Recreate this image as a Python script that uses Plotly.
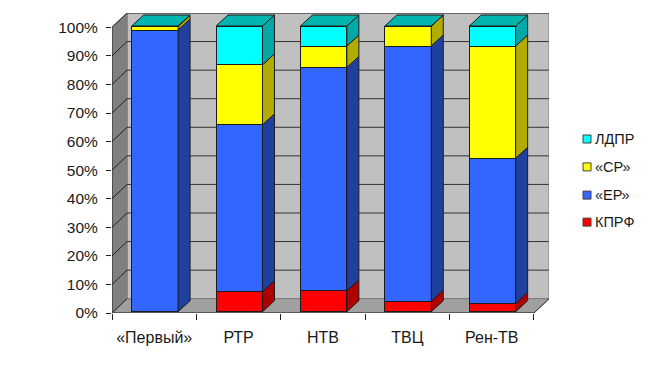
import plotly.graph_objects as go

categories = ["«Первый»", "РТР", "НТВ", "ТВЦ", "Рен-ТВ"]
kprf = [0, 7.0, 7.3, 3.7, 2.9]
er = [98.6, 58.4, 78.2, 89.3, 50.8]
sr = [1.2, 21.0, 7.5, 6.9, 39.3]
ldpr = [0.2, 13.6, 7.0, 0.1, 7.0]
series_names = ["КПРФ", "«ЕР»", "«СР»", "ЛДПР"]
series_values = [kprf, er, sr, ldpr]
front_colors = ["#ff0000", "#3366ff", "#ffff00", "#00ffff"]
side_colors = ["#b00000", "#2040a0", "#b3ac00", "#00a8a8"]
top_color = "#00b5ad"
y_ticks = list(range(0, 101, 10))
y_labels = [f"{v}%" for v in y_ticks]

BAR_W = 0.55
BAR_DX, BAR_DY = 0.142, 3.85
WALL_DX, WALL_DY = 0.178, 5.0
BAR_LIFT = 0.45   # bars float slightly above the floor edge
EDGE = "#1c1c1c"
n = len(categories)
label_x = [i + 0.5 for i in range(n)]
xs = [i + 0.508 for i in range(n)]

fig = go.Figure()

# front faces, real stacked bars
for name, vals, col in zip(series_names, series_values, front_colors):
    fig.add_trace(go.Bar(x=xs, y=vals, yaxis="y2", name=name, width=BAR_W,
                         marker=dict(color=col, line=dict(color=EDGE, width=1)), showlegend=False))

# side and top faces derived from the same values
bottoms = [0] * n
for name, vals, col in zip(series_names, series_values, side_colors):
    px, py = [], []
    for i in range(n):
        if vals[i] <= 0:
            continue
        r = xs[i] + BAR_W / 2
        b, t = bottoms[i], bottoms[i] + vals[i]
        px += [r, r + BAR_DX, r + BAR_DX, r, r, None]
        py += [b, b + BAR_DY, t + BAR_DY, t, b, None]
    fig.add_trace(go.Scatter(x=px, y=py, yaxis="y2", mode="lines", fill="toself", fillcolor=col,
                             line=dict(color=EDGE, width=1), showlegend=False, hoverinfo="skip"))
    bottoms = [a + v for a, v in zip(bottoms, vals)]
px, py = [], []
for i in range(n):
    l, r = xs[i] - BAR_W / 2, xs[i] + BAR_W / 2
    t = bottoms[i]
    px += [l, r, r + BAR_DX, l + BAR_DX, l, None]
    py += [t, t, t + BAR_DY, t + BAR_DY, t, None]
fig.add_trace(go.Scatter(x=px, y=py, yaxis="y2", mode="lines", fill="toself", fillcolor=top_color,
                         line=dict(color=EDGE, width=1), showlegend=False, hoverinfo="skip"))
# invisible trace carrying x tick marks at category boundaries
fig.add_trace(go.Scatter(x=[0, n], y=[0, 0], xaxis="x2", mode="lines", line=dict(color="rgba(0,0,0,0)"),
                         showlegend=False, hoverinfo="skip"))
# invisible trace keeping the main x/y axes with their labels
fig.add_trace(go.Scatter(x=[0, n], y=[0, 0], mode="lines", line=dict(color="rgba(0,0,0,0)"),
                         showlegend=False, hoverinfo="skip"))


def poly(xp, yp, fill, line="#7a7a7a"):
    path = "M " + " L ".join(f"{a},{b}" for a, b in zip(xp, yp)) + " Z"
    return dict(type="path", path=path, xref="x", yref="y", fillcolor=fill, line=dict(color=line, width=1), layer="below")


def seg(x0, y0, x1, y1, col, w=1):
    return dict(type="line", x0=x0, y0=y0, x1=x1, y1=y1, xref="x", yref="y", line=dict(color=col, width=w), layer="below")


top = y_ticks[-1]
shapes = [
    poly([WALL_DX, n + WALL_DX, n + WALL_DX, WALL_DX], [WALL_DY, WALL_DY, top + WALL_DY, top + WALL_DY], "#c0c0c0"),
    poly([0, WALL_DX, WALL_DX, 0], [0, WALL_DY, top + WALL_DY, top], "#808080"),
    poly([0, n, n + WALL_DX, WALL_DX], [0, 0, WALL_DY, WALL_DY], "#a0a0a0"),
]
for v in y_ticks:
    if v > 0:
        shapes.append(seg(WALL_DX, v + WALL_DY, n + WALL_DX, v + WALL_DY, "#333333"))
    shapes.append(seg(0, v, WALL_DX, v + WALL_DY, "#222222"))
shapes.append(seg(0, 0, 0, top, "#222222"))
shapes.append(seg(0, 0, n, 0, "#222222"))
shapes.append(seg(n, 0, n + WALL_DX, WALL_DY, "#333333"))

# legend
legend_x = 1.087
annotations = []
legend_rows = [0.58, 0.487, 0.393, 0.303]
for name, col, yy in zip(series_names[::-1], front_colors[::-1], legend_rows):
    shapes.append(dict(type="rect", xref="paper", yref="paper", xsizemode="pixel", ysizemode="pixel", xanchor=legend_x, yanchor=yy,
                       x0=-4, x1=4, y0=-4, y1=4, fillcolor=col, line=dict(color="#404040", width=1)))
    annotations.append(dict(xref="paper", yref="paper", x=legend_x, y=yy, xshift=6, showarrow=False, xanchor="left",
                            yanchor="middle", text=name, font=dict(family="Liberation Sans", size=14.5, color="#1a1a1a")))

X_MAX = n + WALL_DX
Y_MAX = top + WALL_DY
fig.update_layout(
    width=649, height=373, autosize=False,
    margin=dict(l=112, r=100, t=13, b=60),
    paper_bgcolor="white", plot_bgcolor="white",
    barmode="stack", bargap=0.45,
    shapes=shapes, annotations=annotations,
    showlegend=False,
    font=dict(family="Liberation Sans", size=15, color="#1a1a1a"),
    xaxis=dict(range=[0, X_MAX], tickvals=label_x, ticktext=categories, ticks="", showgrid=False, zeroline=False,
               showline=False, tickfont=dict(size=16), ticklabelstandoff=13),
    xaxis2=dict(range=[0, X_MAX], overlaying="x", anchor="y", side="bottom", tickvals=list(range(n + 1)), ticks="outside",
                ticklen=6, tickcolor="#222222", showticklabels=False, showgrid=False, zeroline=False, showline=False),
    yaxis=dict(range=[0, Y_MAX], tickvals=y_ticks, ticktext=y_labels, ticks="outside", ticklen=5, tickcolor="#222222",
               showgrid=False, zeroline=False, showline=False, tickfont=dict(size=15.5), ticklabelstandoff=5),
    yaxis2=dict(range=[-BAR_LIFT, Y_MAX - BAR_LIFT], overlaying="y", anchor="x", showticklabels=False, ticks="",
                showgrid=False, zeroline=False, showline=False),
)
fig.write_html("out.html", config=dict(displayModeBar=False), post_script="document.body.style.margin='0';document.body.style.overflow='hidden';")
